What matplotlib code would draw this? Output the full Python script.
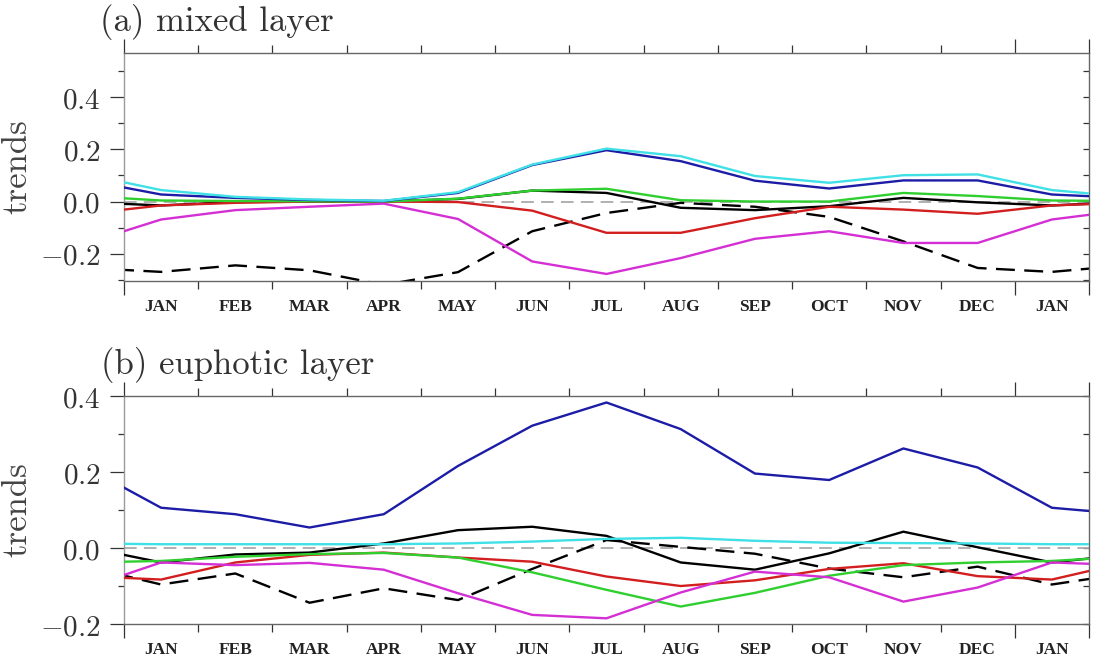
import numpy as np
import matplotlib.pyplot as plt
from matplotlib.ticker import FuncFormatter

plt.rcParams['mathtext.fontset'] = 'cm'

months = ['JAN', 'FEB', 'MAR', 'APR', 'MAY', 'JUN', 'JUL', 'AUG', 'SEP', 'OCT', 'NOV', 'DEC', 'JAN']

# monthly trends JAN..DEC, (a) mixed layer
ml_blue = [0.027, 0.014, 0.006, 0.002, 0.033, 0.140, 0.197, 0.155, 0.080, 0.050, 0.081, 0.081]
ml_cyan = [0.044, 0.018, 0.008, 0.003, 0.036, 0.142, 0.203, 0.174, 0.098, 0.072, 0.101, 0.104]
ml_green = [0.004, 0.002, 0.001, 0.000, 0.011, 0.042, 0.049, 0.005, 0.000, 0.000, 0.033, 0.021]
ml_black = [-0.015, -0.002, 0.000, 0.000, 0.010, 0.042, 0.033, -0.024, -0.033, -0.018, 0.014, -0.003]
ml_red = [-0.015, -0.005, 0.000, 0.000, -0.002, -0.035, -0.120, -0.120, -0.064, -0.020, -0.031, -0.047]
ml_magenta = [-0.069, -0.033, -0.020, -0.008, -0.067, -0.230, -0.278, -0.217, -0.143, -0.114, -0.159, -0.159]
ml_dash = [-0.270, -0.245, -0.264, -0.320, -0.271, -0.114, -0.044, -0.005, -0.020, -0.059, -0.153, -0.255]

# (b) euphotic layer
eu_blue = [0.106, 0.089, 0.054, 0.089, 0.216, 0.322, 0.383, 0.313, 0.196, 0.179, 0.262, 0.212]
eu_cyan = [0.010, 0.010, 0.010, 0.010, 0.012, 0.017, 0.024, 0.027, 0.019, 0.014, 0.013, 0.012]
eu_green = [-0.034, -0.023, -0.016, -0.013, -0.025, -0.064, -0.110, -0.154, -0.118, -0.073, -0.045, -0.038]
eu_black = [-0.038, -0.017, -0.012, 0.012, 0.047, 0.056, 0.032, -0.038, -0.057, -0.014, 0.043, 0.002]
eu_red = [-0.083, -0.038, -0.018, -0.012, -0.025, -0.036, -0.075, -0.100, -0.085, -0.055, -0.040, -0.074]
eu_magenta = [-0.038, -0.045, -0.039, -0.057, -0.119, -0.176, -0.185, -0.117, -0.062, -0.077, -0.141, -0.104]
eu_dash = [-0.096, -0.067, -0.144, -0.106, -0.137, -0.055, 0.021, 0.003, -0.015, -0.054, -0.077, -0.049]

colors = {'blue': '#1c1ca6', 'cyan': '#3fe0e6', 'green': '#2fcf2f',
          'black': 'black', 'red': '#d21e1e', 'magenta': '#d42fd4'}

# cyclic: DEC, JAN..DEC, JAN, FEB centred on month midpoints
x = np.arange(-0.5, 14.0, 1.0)


def wrap(v):
    v = np.asarray(v)
    return np.r_[v[-1], v, v[:2]]


fig = plt.figure(figsize=(10.95, 6.57), dpi=100)
ax1 = fig.add_axes([0.1132, 0.5723, 0.8813, 0.347])
ax2 = fig.add_axes([0.1132, 0.0502, 0.8813, 0.347])


def draw(ax, series, dash, ylim, yticks, yminor):
    ax.axhline(0, color='#aaaaaa', lw=1.3, dashes=(7, 4), zorder=1)
    for name in ['black', 'red', 'green', 'magenta', 'blue', 'cyan']:
        ax.plot(x, wrap(series[name]), color=colors[name], lw=1.7, zorder=3)
    ax.plot(x, wrap(dash), color='black', lw=1.7, dashes=(8, 4), zorder=2)
    ax.set_xlim(0, 13)
    ax.set_ylim(*ylim)

    # month names at midpoints, boundary ticks as minor ticks
    ax.set_xticks(np.arange(0.5, 13, 1.0), months)
    ax.tick_params(axis='x', which='major', length=0, pad=13)
    for lab in ax.get_xticklabels():
        lab.set_fontfamily('Liberation Serif')
        lab.set_fontweight('bold')
        lab.set_fontsize(12.5)
        lab.set_color('#222222')
    ax.set_xticks([1, 2, 3, 4, 5, 6, 7, 8, 9, 10, 11], minor=True)
    ax.tick_params(axis='x', which='minor', length=5.5, width=0.9, color='#333333',
                   direction='out', top=True, bottom=True)
    for side in ['bottom', 'top']:
        sec = ax.secondary_xaxis(side)
        sec.set_xticks([0, 12, 13], ['', '', ''])
        sec.tick_params(length=10, width=0.9, color='#333333', direction='out')
        for s in sec.spines.values():
            s.set_visible(False)

    ax.set_yticks(yticks)
    ax.set_yticks(yminor, minor=True)
    ax.yaxis.set_major_formatter(FuncFormatter(lambda v, p: f'${v:.1f}$'))
    ax.tick_params(axis='y', which='major', length=10, width=0.9, color='#333333',
                   labelsize=21, pad=7, labelcolor='#333333')
    ax.tick_params(axis='y', which='minor', length=4.5, width=0.9, color='#333333')
    rticks = sorted(set(list(yticks) + list(yminor)))
    rsec = ax.secondary_yaxis('right')
    rsec.set_yticks(rticks, [''] * len(rticks))
    rsec.tick_params(length=4, width=0.9, color='#333333', direction='in')
    for s in rsec.spines.values():
        s.set_visible(False)

    for s in ax.spines.values():
        s.set_color('#666666')
        s.set_linewidth(1.0)
    ax.spines['left'].set_color('#9a9a9a')
    ax.set_ylabel('trends', fontsize=25, family='cmr10', color='#444444')
    ax.yaxis.set_label_coords(-0.094, 0.5)


draw(ax1, {'blue': ml_blue, 'cyan': ml_cyan, 'green': ml_green, 'black': ml_black,
           'red': ml_red, 'magenta': ml_magenta}, ml_dash,
     (-0.305, 0.57), [-0.2, 0.0, 0.2, 0.4], [-0.3, -0.1, 0.1, 0.3, 0.5])
draw(ax2, {'blue': eu_blue, 'cyan': eu_cyan, 'green': eu_green, 'black': eu_black,
           'red': eu_red, 'magenta': eu_magenta}, eu_dash,
     (-0.2, 0.4), [-0.2, 0.0, 0.2, 0.4], [-0.1, 0.1, 0.3])

fig.text(100 / 1095, 1 - 31 / 657, '(a) mixed layer', fontsize=25, family='cmr10',
         color='#333333', va='baseline')
fig.text(101 / 1095, 1 - 374 / 657, '(b) euphotic layer', fontsize=25, family='cmr10',
         color='#333333', va='baseline')

fig.savefig('out.png', dpi=100)
